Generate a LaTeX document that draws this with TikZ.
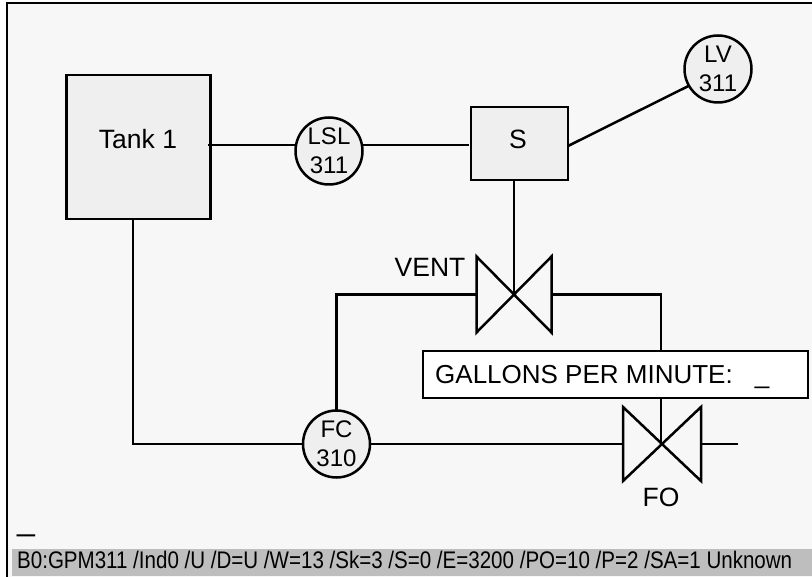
\documentclass[tikz,border=0pt]{standalone}
\usepackage{fontspec}
\setmainfont{Liberation Sans}
\definecolor{panelgray}{HTML}{F7F7F7}
\definecolor{partgray}{HTML}{EFEFEF}
\definecolor{bargray}{HTML}{BEBEBE}
\tikzset{
  pipe/.style={line width=2.5pt},
  part/.style={draw,line width=2.5pt,fill=partgray,inner sep=0pt,outer sep=0pt},
  instr/.style={part,circle,minimum size=67pt,align=center,
    font=\fontsize{24}{29}\selectfont},
  valvebox/.style={inner sep=0pt,outer sep=0pt},
  bigtext/.style={font=\fontsize{26.5}{28}\selectfont,inner sep=0pt}
}

\begin{document}
\begin{tikzpicture}[x=1pt,y=-1pt]
    \useasboundingbox (0,0) rectangle (812,577);
    \fill[panelgray] (7,3) rectangle (812,577);
    \draw[pipe] (7,577) -- (7,3) -- (812,3);

    \node[part,minimum width=144pt,minimum height=144pt] (tank) at (138.5,147) {};
    \node[bigtext] (tanklabel) at (138,139) {Tank 1};
    \node[part,minimum width=97pt,minimum height=73pt] (sbox) at (519.5,143.5) {};
    \node[bigtext] (slabel) at (518,139) {S};

    \node[instr] (lsl) at (329,151) {LSL\\311};
    \node[instr] (lv) at (718,69) {LV\\311};
    \node[instr] (fc) at (336.5,444) {FC\\310};

    \node[valvebox,minimum width=75pt,minimum height=76pt] (vent) at (514,294.5) {};
    \draw[pipe] (vent.north west) -- (vent.south east) -- (vent.north east)
      -- (vent.south west) -- cycle;
    \node[valvebox,minimum width=78pt,minimum height=74pt] (fo) at (662,444) {};
    \draw[pipe] (fo.north west) -- (fo.south east) -- (fo.north east)
      -- (fo.south west) -- cycle;
    \node[bigtext] (ventlabel) at (430,267) {VENT};
    \node[bigtext] (folabel) at (661,497) {FO};

    \coordinate (tankright) at (208,145);
    \coordinate (tankdown) at (133,219);
    \coordinate (sright) at (568,146);
    \coordinate (ventcorner) at (661,294.5);
    \coordinate (foend) at (738,444);

    \node[draw,line width=2.5pt,fill=white,minimum width=385pt,minimum height=47pt,
      inner sep=0pt,outer sep=0pt] (gpm) at (615.5,374.5) {};
    \node[anchor=base west,inner sep=0pt,font=\fontsize{26}{28}\selectfont] (gpmlabel)
      at (435,384) {GALLONS PER MINUTE:\hspace{22pt}\_};

    \draw[pipe] (tankright) -- (lsl.west |- tankright);
    \draw[pipe,shorten >=2pt] (lsl.east |- tankright) -- (sbox.west |- tankright);
    \draw[pipe] (sright) -- (lv.210);
    \draw[pipe] (sbox.south -| vent) -- (vent.center);
    \draw[pipe] (fc.north) -- (fc.north |- vent.west) -- (vent.west);
    \draw[pipe] (vent.east) -- (ventcorner) -- (ventcorner |- gpm.north);
    \draw[pipe] (ventcorner |- gpm.south) -- (ventcorner |- fo.center);
    \draw[pipe] (tankdown) |- (fc.west);
    \draw[pipe] (fc.east) -- (fo.west);
    \draw[pipe] (fo.east) -- (foend);

    \node[anchor=base west,inner sep=0pt,font=\fontsize{32}{32}\selectfont]
      (cursor) at (17,530) {\_};
    \fill[bargray] (12,549) rectangle (812,576);
    \node[anchor=base west,inner sep=0pt,xscale=.856,font=\fontsize{24}{26}\selectfont]
      (status) at (17,568)
      {B0:GPM311 /Ind0 /U /D=U /W=13 /Sk=3 /S=0 /E=3200 /PO=10 /P=2 /SA=1 Unknown};
  \end{tikzpicture}
\end{document}
